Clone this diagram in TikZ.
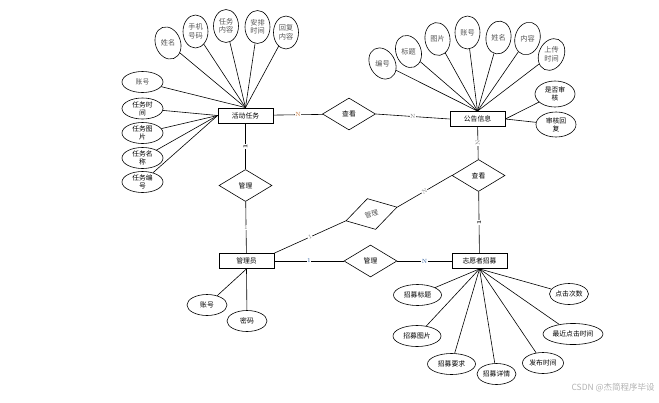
\documentclass[tikz,border=0pt]{standalone}
\usepackage{fontspec}
\newfontfamily\cjk{Noto Sans CJK SC}
\usetikzlibrary{shapes.geometric}
\definecolor{lblorange}{HTML}{C07030}
\definecolor{lblblue}{HTML}{3060A0}
\definecolor{txtgray}{HTML}{555555}
\begin{document}
\begin{tikzpicture}[x=1pt,y=-1pt,
  line width=0.6pt,
  ent/.style={draw, line width=0.8pt, minimum width=55pt, minimum height=15pt, inner sep=0pt, font=\cjk\fontsize{6.8}{7}\selectfont},
  rel/.style={diamond, draw, minimum width=53pt, minimum height=32pt, inner sep=0pt, font=\cjk\fontsize{6.8}{7}\selectfont},
  tattr/.style={ellipse, draw, minimum width=25pt, minimum height=33pt, inner sep=0pt, align=center, text=txtgray, font=\cjk\fontsize{7.2}{8.5}\selectfont},
  ttext/.style={inner sep=0pt, align=center, text=txtgray, font=\cjk\fontsize{7.2}{8.5}\selectfont},
  lattr/.style={ellipse, draw, minimum width=41pt, minimum height=21pt, inner sep=0pt, align=center, font=\cjk\fontsize{6.8}{8}\selectfont},
  battr/.style={ellipse, draw, minimum width=48pt, minimum height=21pt, inner sep=0pt, align=center, font=\cjk\fontsize{6.8}{8}\selectfont},
  lbl/.style={font=\fontsize{6}{6}\selectfont, inner sep=0.5pt, fill=white}
]
\useasboundingbox (0,0) rectangle (659,402);

% entities
\node[ent] (hd) at (245.5,115.5) {活动任务};
\node[ent] (gg) at (477.5,119) {公告信息};
\node[ent] (gly) at (246.5,261) {管理员};
\node[ent] (zm) at (479.5,261) {志愿者招募};

% relationships
\node[rel] (ck1) at (349,114) {查看};
\node[rel] (ck2) at (478.5,175.5) {查看};
\node[rel] (gl1) at (245.5,185.5) {管理};
\node[rel] (gl2) at (370.5,261) {管理};
\node[rel, rotate=15, text=txtgray] (gl3) at (371.5,214) {管理};

% connectors
\draw (hd) -- node[lbl, text=lblorange]{N} (ck1);
\draw (ck1.east) -- node[lbl, text=gray]{N} (gg.west);
\draw (hd) -- node[lbl, font=\bfseries\fontsize{6}{6}\selectfont, rotate=90]{1} (gl1);
\draw (gl1) -- node[lbl, text=gray]{1} (gly);
\draw (gly.north east) -- node[lbl, text=gray, sloped]{1} (gl3.west);
\draw (gl3.east) -- node[lbl, text=gray, sloped]{N} (ck2.west);
\draw (gly) -- node[lbl, text=lblblue]{1} (gl2);
\draw (gl2) -- node[lbl, text=lblblue]{N} (zm);
\draw (gg) -- node[lbl, text=gray, rotate=90]{N} (ck2);
\draw (ck2) -- node[lbl, font=\bfseries\fontsize{6}{6}\selectfont, rotate=90]{1} (zm);

% 活动任务 attributes
\node[tattr, rotate=20] (a1) at (168,43) {};
\node[ttext] (a1t) at (a1) {姓名};
\node[tattr] (a2) at (195.5,31.5) {手机\\号码};
\node[tattr] (a3) at (226,26) {任务\\内容};
\node[tattr] (a4) at (257.5,27) {安排\\时间};
\node[tattr] (a5) at (286,32.5) {回复\\内容};
\node[lattr, text=txtgray] (a6) at (142.5,82) {账号};
\node[lattr] (a7) at (142.5,108.5) {任务时\\间};
\node[lattr] (a8) at (142.5,133) {任务图\\片};
\node[lattr] (a9) at (142.5,158) {任务名\\称};
\node[lattr] (a10) at (142.5,182) {任务编\\号};
\foreach \i in {a1,a2,a3,a4,a5,a6} \draw (hd.north) -- (\i);
\foreach \i in {a7,a8,a9,a10} \draw (hd.west) -- (\i);

% 公告信息 attributes
\node[tattr, rotate=30] (b1) at (382.5,63.5) {};
\node[ttext] (b1t) at (b1) {编号};
\node[tattr, rotate=20] (b2) at (408.5,51.5) {};
\node[ttext] (b2t) at (b2) {标题};
\node[tattr, rotate=8] (b3) at (437.5,39) {};
\node[ttext] (b3t) at (b3) {图片};
\node[tattr] (b4) at (467.5,32.5) {账号};
\node[tattr, rotate=-8] (b5) at (498.5,37.5) {};
\node[ttext] (b5t) at (b5) {姓名};
\node[tattr, rotate=-15] (b6) at (527.5,38.5) {};
\node[ttext] (b6t) at (b6) {内容};
\node[tattr, rotate=-25] (b7) at (551.5,54.5) {};
\node[ttext] (b7t) at (b7) {上传\\时间};
\node[lattr, minimum width=40pt, minimum height=26pt] (b8) at (555,94) {是否审\\核};
\node[lattr, minimum width=40pt, minimum height=25pt] (b9) at (556,124.5) {审核回\\复};
\foreach \i in {b1,b2,b3,b4,b5,b6,b7} \draw (gg.north) -- (\i);
\draw (gg.east) -- (b8);
\draw (gg.east) -- (b9);

% 管理员 attributes
\node[battr, minimum width=40pt] (c1) at (207,305) {账号};
\node[battr, minimum width=40pt] (c2) at (247,321) {密码};
\draw (gly.south) -- (c1);
\draw (gly.south) -- (c2);

% 志愿者招募 attributes
\node[battr] (d1) at (417.5,295) {招募标题};
\node[battr] (d2) at (417,336) {招募图片};
\node[battr] (d3) at (451.5,364) {招募要求};
\node[battr, minimum width=39pt] (d4) at (496.5,374) {招募详情};
\node[battr, minimum width=41pt] (d5) at (543,363) {发布时间};
\node[battr, minimum width=60pt] (d6) at (573,334) {最近点击时间};
\node[battr, minimum width=39pt] (d7) at (569,294) {点击次数};
\foreach \i in {d1,d2,d3,d4,d5,d6,d7} \draw (zm.south) -- (\i);

% watermark
\node[anchor=east, text=gray!60, font=\cjk\fontsize{8.5}{9}\selectfont, inner sep=0pt] (wm) at (655,388) {CSDN @杰简程序毕设};
\end{tikzpicture}
\end{document}
